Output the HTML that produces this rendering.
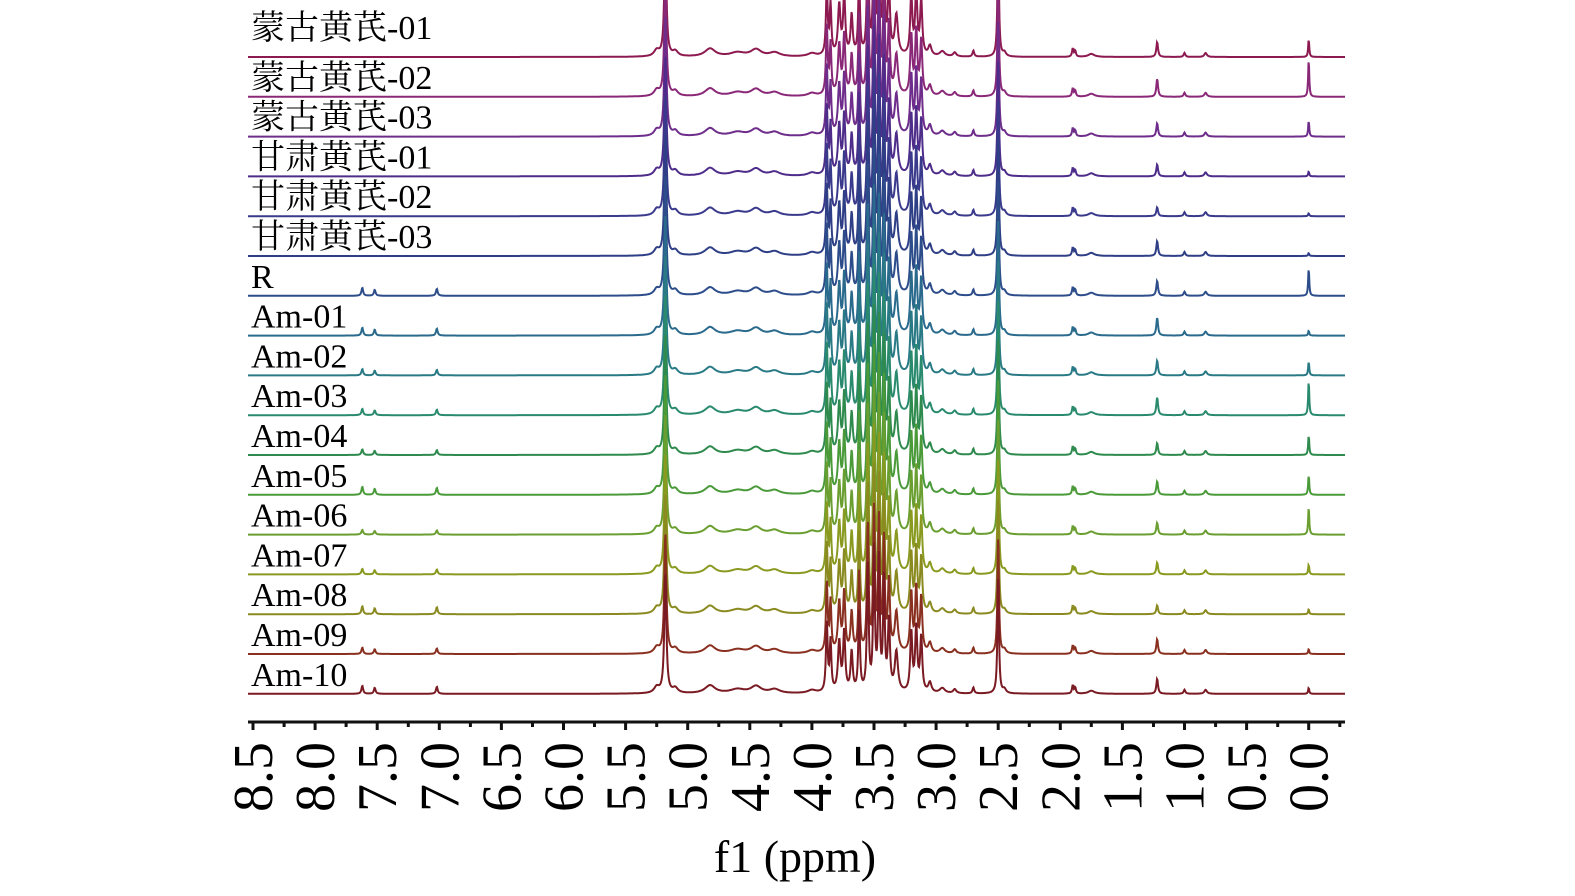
<!DOCTYPE html>
<html><head><meta charset="utf-8"><style>
body{margin:0;background:#fff;width:1575px;height:896px;overflow:hidden}
svg{display:block;font-family:"Liberation Serif","Noto Serif CJK SC",serif}
</style></head><body>
<svg id="chart" width="1575" height="896" viewBox="0 0 1575 896">
<g id="spectra"></g>
<g id="labels"></g>
<g id="axis"></g>
<text x="795" y="872" font-size="46" text-anchor="middle">f1 (ppm)</text>
</svg>
<script>
const samples=["蒙古黄芪-01","蒙古黄芪-02","蒙古黄芪-03","甘肃黄芪-01","甘肃黄芪-02","甘肃黄芪-03","R","Am-01","Am-02","Am-03","Am-04","Am-05","Am-06","Am-07","Am-08","Am-09","Am-10"];
const colors=["#8c1a50","#8a2878","#6e2d8a","#4e2d8a","#3a3a8c","#2f3f86","#2d4d8a","#2a6a8c","#2a7a86","#2a8a6e","#2f8a4e","#4a9a3a","#6a9e30","#8a9a20","#8a8a20","#8a3020","#7a1a22"];
const peakPpm=[7.62,7.52,7.02,5.25,5.18,5.10,4.82,4.60,4.45,4.30,4.00,3.88,3.85,3.78,3.74,3.68,3.62,3.55,3.50,3.46,3.42,3.38,3.32,3.20,3.16,3.12,3.05,2.95,2.85,2.70,2.50,2.45,1.90,1.88,1.75,1.22,1.00,0.83];
const peakHeight=[8,6,7,6,120,5,8,4,7,4,3,70,50,50,60,40,80,130,140,130,110,70,40,60,65,55,10,5,4,6,120,4,8,6,3,15,4,4];
const peakWidth=[.008,.008,.008,.025,.01,.025,.05,.07,.05,.05,.04,.008,.008,.012,.01,.01,.008,.008,.008,.008,.008,.01,.015,.01,.01,.01,.015,.025,.015,.008,.007,.015,.007,.007,.03,.008,.008,.012];
const aromaticScale=[0,0,0,0,0,0,1,1,.8,.8,.7,1,.6,.7,1,.8,1];
const tmsHeight=[18,38,16,5,3,3,28,5,14,35,20,20,28,10,5,5,6];
const methylScale=[1,1.2,.9,.8,.6,1,1,1.2,1,1.2,.8,.9,.8,.8,.6,1,1];
const tickLabels=["8.5","8.0","7.5","7.0","6.5","6.0","5.5","5.0","4.5","4.0","3.5","3.0","2.5","2.0","1.5","1.0","0.5","0.0"];
const ns="http://www.w3.org/2000/svg";
const X=p=>253+(8.5-p)*124.2;
const base0=57,step=39.8;
const sp=document.getElementById('spectra');
samples.forEach((s,i)=>{
  const by=base0+i*step;
  let d="";
  for(let px=248;px<=1345;px+=0.5){
    const p=8.5-(px-253)/124.2;
    let y=0;
    peakPpm.forEach((c,k)=>{
      let h=peakHeight[k];
      if(k<3)h*=aromaticScale[i];
      if(k===35)h*=methylScale[i];
      const w=peakWidth[k];
      y+=h*w*w/((p-c)*(p-c)+w*w);
    });
    const w0=.005;y+=tmsHeight[i]*w0*w0/(p*p+w0*w0);
    d+=(px===248?"M":"L")+px+","+(by-Math.min(y,400)).toFixed(1);
  }
  const path=document.createElementNS(ns,'path');
  path.setAttribute('d',d);path.setAttribute('fill','none');
  path.setAttribute('stroke',colors[i]);path.setAttribute('stroke-width','2');
  
  
  sp.appendChild(path);
  const t=document.createElementNS(ns,'text');
  t.setAttribute('x',251);t.setAttribute('y',by-(i===0?18:8));t.setAttribute('font-size','34');
  t.textContent=s;
  
  
  document.getElementById('labels').appendChild(t);
});
const ax=document.getElementById('axis');
let ad="M248,722H1345";
for(let k=0;k<=35;k++){const p=8.5-k*0.25;const x=X(p);ad+="M"+x.toFixed(1)+",722v"+(k%2?5:8);}
const al=document.createElementNS(ns,'path');
al.setAttribute('d',ad);al.setAttribute('stroke','#111');al.setAttribute('stroke-width','3');al.setAttribute('fill','none');


ax.appendChild(al);
tickLabels.forEach(l=>{
  const x=X(parseFloat(l));
  const t=document.createElementNS(ns,'text');
  t.setAttribute('transform','translate('+(x+19)+',742) rotate(-90)');
  t.setAttribute('text-anchor','end');t.setAttribute('font-size','56');
  t.textContent=l;
  
  
  ax.appendChild(t);
});
</script>
</body></html>
